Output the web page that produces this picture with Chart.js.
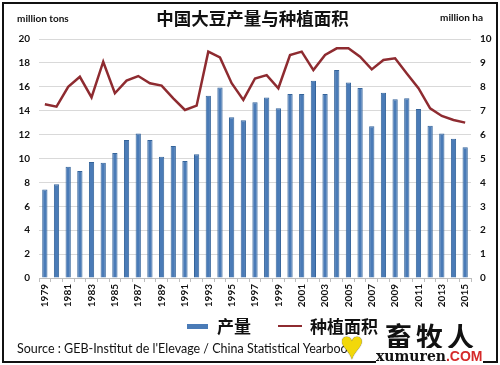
<!DOCTYPE html>
<html>
<head>
<meta charset="utf-8">
<script src="https://cdn.jsdelivr.net/npm/chart.js@4"></script>
<style>
  html, body { margin: 0; padding: 0; background: #fff; }
  #wrap { position: relative; width: 500px; height: 365px; overflow: hidden; background: #fff; }
  #frame { position: absolute; left: 2px; top: 2px; width: 492px; height: 357px; border: 2px solid #111; }
  canvas { position: absolute; left: 0; top: 0; }
  .txt { position: absolute; white-space: nowrap; color: #111; }
  #title { left: 0; width: 505px; text-align: center; top: 5px; font: bold 17.5px "Noto Sans CJK SC", sans-serif; }
  #unitL { left: 17px; top: 12px; font: bold 10px Lato, "Open Sans", sans-serif; }
  #unitR { left: 440px; top: 11px; font: bold 10px Lato, "Open Sans", sans-serif; }
  .lg { position: absolute; font: bold 17px "Noto Sans CJK SC", sans-serif; color: #111; white-space: nowrap; }
  #source { left: 17px; top: 341px; font: 12.5px Lato, "Open Sans", sans-serif; }
  #wm { left: 340px; top: 318px; }
</style>
</head>
<body>
<div id="wrap">
  <canvas id="c" width="500" height="365"></canvas>
  <div id="frame"></div>
  <div class="txt" id="title">中国大豆产量与种植面积</div>
  <div class="txt" id="unitL">million tons</div>
  <div class="txt" id="unitR">million ha</div>
  <div class="txt" id="source">Source : GEB-Institut de l'Elevage / China Statistical Yearbook</div>
  <div style="position:absolute;left:187px;top:324px;width:21px;height:5px;background:#4a7bb7;"></div>
  <div class="lg" style="left:217px;top:313px;">产量</div>
  <div style="position:absolute;left:278px;top:325px;width:24px;height:2px;background:#8e2b30;"></div>
  <div class="lg" style="left:310px;top:313px;">种植面积</div>
  <div class="txt" id="wm">
    <span style="position:absolute;left:0;top:4px;font-size:40px;color:#f2d80a;text-shadow:0 0 1px #333;">&#9829;</span>
    <span style="position:absolute;left:45px;top:-2px;font:bold 27px 'Noto Sans CJK SC',sans-serif;letter-spacing:4px;color:#111;background:rgba(255,255,255,0.6);">畜牧人</span>
    <span style="position:absolute;left:36px;top:30px;font:bold 14px 'DejaVu Serif',serif;color:#111;background:#fff;">xumuren<span style="color:#d52a2a;font-family:'Liberation Sans';">.COM</span></span>
  </div>
</div>
<script>
const years = ["1979","1980","1981","1982","1983","1984","1985","1986","1987","1988","1989","1990","1991","1992","1993","1994","1995","1996","1997","1998","1999","2000","2001","2002","2003","2004","2005","2006","2007","2008","2009","2010","2011","2012","2013","2014","2015"];
const production = [7.4,7.85,9.3,8.95,9.7,9.65,10.45,11.55,12.1,11.55,10.15,11.05,9.8,10.35,15.25,15.95,13.45,13.2,14.7,15.1,14.2,15.4,15.4,16.5,15.4,17.4,16.35,15.9,12.7,15.5,14.95,15.05,14.15,12.75,12.1,11.65,10.95];
const area = [7.27,7.17,8.0,8.42,7.56,9.05,7.73,8.26,8.45,8.15,8.05,7.52,7.03,7.21,9.47,9.23,8.15,7.45,8.35,8.49,7.94,9.33,9.47,8.70,9.33,9.61,9.61,9.26,8.73,9.12,9.19,8.56,7.94,7.10,6.78,6.61,6.50];
const leftTicks = [0,2,4,6,8,10,12,14,16,18,20];
const rightTicks = [0,1,2,3,4,5,6,7,8,9,10];

const tickFont = { family: "Lato, 'Open Sans', sans-serif", size: 10, weight: "bold" };

new Chart(document.getElementById("c"), {
  data: {
    labels: years,
    datasets: [
      {
        type: "line", label: "种植面积", data: area, yAxisID: "y1",
        borderColor: "#8e2b30", borderWidth: 2.5, pointRadius: 0, tension: 0, order: 0
      },
      {
        type: "bar", label: "产量", data: production, yAxisID: "y",
        backgroundColor: "#4a7bb7", borderColor: "#35649a", borderWidth: 1,
        barPercentage: 0.45, categoryPercentage: 1, order: 1
      }
    ]
  },
  options: {
    responsive: false,
    animation: false,
    layout: { padding: { top: 39, bottom: 47, left: 0, right: 0 } },
    plugins: { legend: { display: false }, title: { display: false }, tooltip: { enabled: false } },
    scales: {
      x: {
        offset: true,
        grid: { display: true, drawOnChartArea: false, drawTicks: true, tickLength: 4, color: "#bdbdbd", offset: true },
        border: { display: true, color: "#bdbdbd" },
        ticks: {
          autoSkip: false, minRotation: 90, maxRotation: 90, padding: 2,
          color: "#111", font: tickFont,
          callback: function(v, i) { return i % 2 === 0 ? years[i] : ""; }
        },
        afterFit: function(s) { s.height = 40; }
      },
      y: {
        position: "left", min: 0, max: 20,
        afterBuildTicks: function(s) { s.ticks = leftTicks.map(v => ({ value: v })); },
        grid: { color: "#d9d9d9", drawTicks: false },
        border: { display: false },
        ticks: { padding: 9, color: "#111", font: tickFont },
        afterFit: function(s) { s.width = 39; }
      },
      y1: {
        position: "right", min: 0, max: 10,
        afterBuildTicks: function(s) { s.ticks = rightTicks.map(v => ({ value: v })); },
        grid: { display: false, drawTicks: false },
        border: { display: false },
        ticks: { padding: 9, color: "#111", font: tickFont },
        afterFit: function(s) { s.width = 29; }
      }
    }
  }
});
</script>
</body>
</html>
